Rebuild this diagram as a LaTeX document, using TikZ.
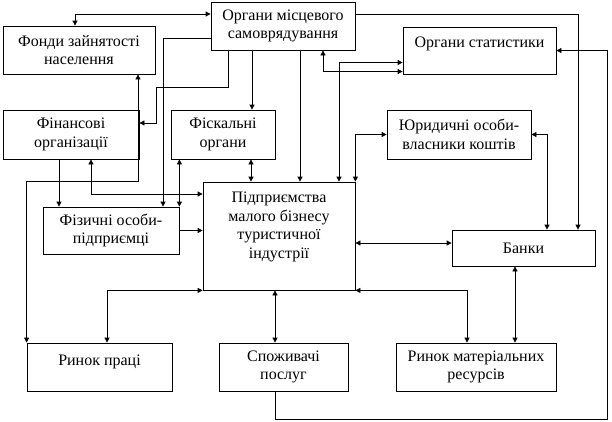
\documentclass[tikz,border=0pt]{standalone}
\usepackage{fontspec}
\setmainfont{Liberation Serif}
\newfontfamily\tnr{Liberation Serif}
\usetikzlibrary{arrows.meta}

\begin{document}
\begin{tikzpicture}[x=1pt,y=-1pt,line width=0.8pt,
  blok/.style={draw, rectangle, align=center, inner sep=2pt,
    font=\tnr\fontsize{16}{18.5}\selectfont},
  ar/.style={-{Triangle[length=5pt,width=5pt]}},
  dv/.style={{Triangle[length=5pt,width=5pt]}-{Triangle[length=5pt,width=5pt]}}]
\useasboundingbox (0,0) rectangle (612,421);

\node[blok, minimum width=144pt, minimum height=48pt] (omc) at (283,26) {Органи місцевого\\самоврядування};
\node[blok, minimum width=152pt, minimum height=48pt] (fond) at (79,50) {Фонди зайнятості\\населення};
\node[blok, minimum width=153pt, minimum height=47pt, text depth=16pt] (stat) at (479.5,50.5) {Органи статистики};
\node[blok, minimum width=136pt, minimum height=49pt] (fin) at (71,134.5) {Фінансові\\організації};
\node[blok, minimum width=104pt, minimum height=49pt] (fisk) at (223,134.5) {Фіскальні\\органи};
\node[blok, minimum width=144pt, minimum height=49pt] (yur) at (459,134.5) {Юридичні особи-\\власники коштів};
\node[blok, minimum width=152pt, minimum height=108pt, text depth=22pt] (pidp) at (279,236) {Підприємства\\малого бізнесу\\туристичної\\індустрії};
\node[blok, minimum width=136pt, minimum height=47pt] (fiz) at (111,230.5) {Фізичні особи-\\підприємці};
\node[blok, minimum width=143pt, minimum height=36pt] (bank) at (523.5,248) {Банки};
\node[blok, minimum width=145pt, minimum height=48pt, text depth=14pt] (praci) at (99.5,367) {Ринок праці};
\node[blok, minimum width=129pt, minimum height=48pt] (spoz) at (283.5,367) {Споживачі\\послуг};
\node[blok, minimum width=160pt, minimum height=48pt] (rynmat) at (476,367) {Ринок матеріальних\\ресурсів};

\draw[dv] ([xshift=-4pt]fond.north) |- ([yshift=12pt]omc.west);
\draw[ar] ([yshift=-12pt]omc.west) -| ([xshift=52pt]fiz.north);
\draw[ar] ([xshift=-55pt]omc.south) |- (156,87) |- ([yshift=11.5pt]fin.east);
\draw[ar] ([xshift=-31pt]omc.south) -- ([xshift=-31pt]omc.south |- fisk.north);
\draw[ar] ([xshift=17pt]omc.south) -- ([xshift=17pt]omc.south |- pidp.north);
\draw[dv] ([xshift=40pt]omc.south) |- ([yshift=-21pt]stat.west);
\draw[dv] ([xshift=60pt]pidp.north) |- ([yshift=-12pt]stat.west);
\draw[ar] ([yshift=12pt]omc.east) -| ([xshift=54.5pt]bank.north);
\draw[ar] ([xshift=-8.5pt]spoz.south) |- (607,419) |- (stat.east);
\draw[dv] (pidp.north east) |- (yur.west);
\draw[dv] (yur.east) -| ([xshift=23.5pt]bank.north);
\draw[dv] ([yshift=-7pt]pidp.east) -- ([yshift=-7pt]pidp.east -| bank.west);
\draw[dv] ([xshift=-8.5pt]bank.south) -- ([xshift=-8.5pt]bank.south |- rynmat.north);
\draw[dv] (pidp.south east) -| ([xshift=-9pt]rynmat.north);
\draw[dv] (pidp.south west) -| ([xshift=7.5pt]praci.north);
\draw[dv] ([xshift=-4pt]pidp.south) -- ([xshift=-4pt]pidp.south |- spoz.north);
\draw[dv] ([xshift=20pt]fin.south) |- ([yshift=42pt]pidp.west);
\draw[ar] ([xshift=-12pt]fin.south) -- ([xshift=-12pt]fin.south |- fiz.north);
\draw[dv] ([xshift=59pt]fond.south) -- ++(0,107) -| (praci.north west);
\draw[dv] (fiz.north east) -- (fiz.north east |- fisk.south);
\draw[dv] ([xshift=28pt]fisk.south) -- ([xshift=28pt]fisk.south |- pidp.north);
\draw[ar] (fiz.east) -- (fiz.east -| pidp.west);

\end{tikzpicture}
\end{document}
